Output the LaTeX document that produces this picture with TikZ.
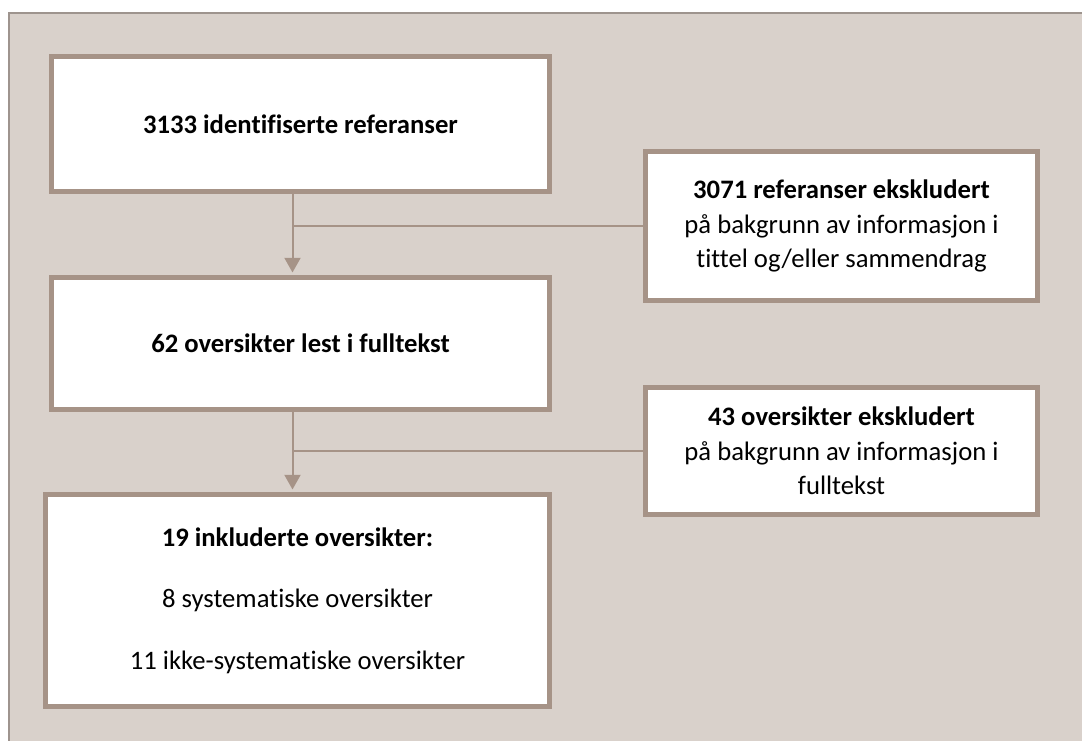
\documentclass[tikz,border=0pt]{standalone}
\usepackage{fontspec}
\setmainfont{Carlito}[Ligatures={NoCommon}]
\usetikzlibrary{arrows.meta,positioning,calc}
\definecolor{panelbg}{RGB}{217,209,203}
\definecolor{panelline}{RGB}{158,148,142}
\definecolor{boxline}{RGB}{166,147,135}
\tikzset{
    flowbox/.style={
        rectangle, draw=boxline, line width=3.75pt, fill=white,
        inner sep=0pt, align=center,
        font=\fontsize{20}{26}\selectfont
    },
    arrow/.style={-{Triangle[width=12pt,length=11pt]}, draw=boxline, line width=1.5pt},
    relation/.style={draw=boxline, line width=1.5pt}
}

\begin{document}
\begin{tikzpicture}[x=0.75pt, y=-0.75pt]
\useasboundingbox (0,0) rectangle (1082,740);

%% Background panel -- runs off the right and bottom edges
\draw[panelline, line width=1.5pt, fill=panelbg] (9,13) rectangle (1110,770);

%% Main column, centred near x=300
\node[flowbox, minimum width=373.5pt, minimum height=101.25pt] (refs) at (300.5,124)
    {\textbf{3133 identifiserte referanser}};
\node[flowbox, minimum width=373.5pt, minimum height=99pt] (fulltext) at (300.5,343.5)
    {\textbf{62 oversikter lest i fulltekst}};
\node[flowbox, minimum width=378pt, minimum height=159pt] (included) at (297.5,600.5)
    {\textbf{19 inkluderte oversikter:}\\[20pt]
     8 systematiske oversikter\\[20pt]
     11 ikke-systematiske oversikter};

%% Exclusion boxes on the right, x from 643 to 1040
\node[flowbox, minimum width=294pt, minimum height=111.75pt] (excl1) at (841.5,226)
    {\textbf{3071 referanser ekskludert}\\
     på bakgrunn av informasjon i\\
     tittel og/eller sammendrag};
\node[flowbox, minimum width=294pt, minimum height=95.25pt] (excl2) at (841.5,451)
    {\textbf{43 oversikter ekskludert}\\
     på bakgrunn av informasjon i\\
     fulltekst};

%% Vertical flow line sits a little left of the box centres
\coordinate (split) at (292.5,0);

%% refs -> fulltext, branch to excl1
\draw[arrow, shorten >=1.9pt] (refs.south -| split) -- (fulltext.north -| split);
\draw[relation] (split |- excl1.west) -- (excl1.west);

%% fulltext -> included, branch to excl2
\draw[arrow, shorten >=1.9pt] (fulltext.south -| split) -- (included.north -| split);
\draw[relation] (split |- excl2.west) -- (excl2.west);

\end{tikzpicture}
\end{document}
